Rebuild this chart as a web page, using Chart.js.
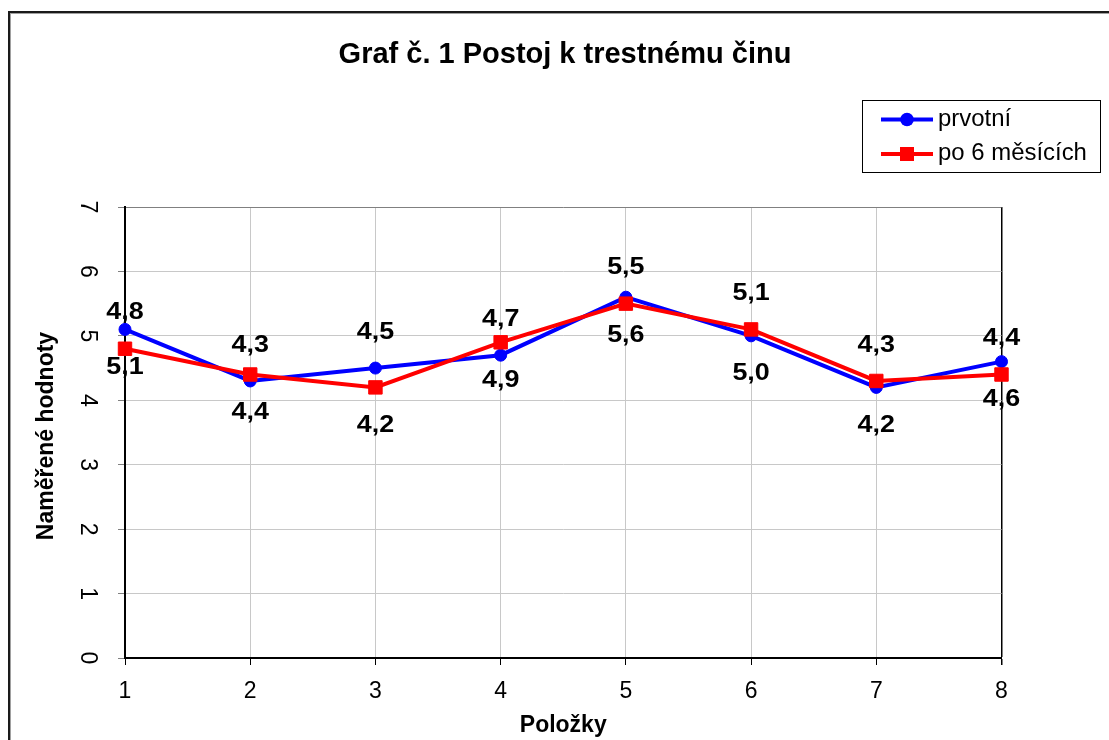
<!DOCTYPE html>
<html><head><meta charset="utf-8">
<script src="https://cdn.jsdelivr.net/npm/chart.js@4/dist/chart.umd.min.js"></script>
<style>html,body{margin:0;padding:0;background:#fff}#wrap{width:1109px;height:740px;position:relative}canvas{display:block}</style>
</head><body><div id="wrap"><canvas id="c" width="1109" height="740"></canvas></div>
<script>
// ---- data ----
const categories = ['1','2','3','4','5','6','7','8'];
const prvotni = [5.1, 4.3, 4.5, 4.7, 5.6, 5.0, 4.2, 4.6];
const po6mesicich = [4.8, 4.4, 4.2, 4.9, 5.5, 5.1, 4.3, 4.4];
const prvotniLabelSide = ['below','above','above','above','below','below','below','below'];
const po6LabelSide = ['above','below','below','below','above','above','above','above'];
const seriesNames = ['prvotní', 'po 6 měsících'];
const yMin = 0, yMax = 7, yStep = 1;
const chartTitle = 'Graf č. 1 Postoj k trestnému činu';
const xTitle = 'Položky';
const yTitle = 'Naměřené hodnoty';

const FONT = "'Liberation Sans', Arial, Helvetica, sans-serif";
Chart.defaults.font.family = FONT;
Chart.defaults.color = '#000';

const decorPlugin = {
  id: 'decor',
  beforeDraw(chart) {
    const ctx = chart.ctx;
    ctx.save();
    ctx.fillStyle = '#fff';
    ctx.fillRect(0, 0, chart.width, chart.height);
    ctx.strokeStyle = '#1a1a1a';
    ctx.lineWidth = 2;
    ctx.strokeRect(9, 12, 1300, 900);
    ctx.strokeStyle = '#a0a0a0';
    ctx.lineWidth = 1;
    ctx.strokeRect(10.5, 13.5, 1300, 900);
    ctx.restore();
  },
  afterDraw(chart) {
    const ctx = chart.ctx;
    ctx.save();
    // title
    ctx.fillStyle = '#000';
    ctx.font = 'bold 29px ' + FONT;
    ctx.textAlign = 'center';
    ctx.textBaseline = 'middle';
    ctx.fillText(chartTitle, 565, 55);
    // y axis title
    ctx.save();
    ctx.translate(46.5, 436);
    ctx.rotate(-Math.PI / 2);
    ctx.font = 'bold 23px ' + FONT;
    ctx.fillText(yTitle, 0, 0);
    ctx.restore();
    // legend
    const lx = 862, ly = 100, lw = 238, lh = 72;
    ctx.strokeStyle = '#000';
    ctx.lineWidth = 1;
    ctx.strokeRect(lx + 0.5, ly + 0.5, lw, lh);
    const rows = [119.5, 154];
    chart.data.datasets.forEach((ds, i) => {
      const y = rows[i];
      ctx.strokeStyle = ds.borderColor;
      ctx.lineWidth = 4;
      ctx.beginPath();
      ctx.moveTo(881, y);
      ctx.lineTo(933, y);
      ctx.stroke();
      ctx.fillStyle = ds.backgroundColor;
      if (ds.pointStyle === 'circle') {
        ctx.beginPath();
        ctx.arc(907, y, 6.8, 0, Math.PI * 2);
        ctx.fill();
      } else {
        ctx.fillRect(907 - 7, y - 7, 14, 14);
      }
      ctx.fillStyle = '#000';
      ctx.font = '23px ' + FONT;
      ctx.textAlign = 'left';
      ctx.textBaseline = 'middle';
      ctx.save();
      ctx.translate(938, y);
      ctx.scale(1.04, 1);
      ctx.fillText(ds.label, 0, 0);
      ctx.restore();
    });
    ctx.restore();
  },
  afterDatasetsDraw(chart) {
    const ctx = chart.ctx;
    ctx.save();
    ctx.fillStyle = '#000';
    ctx.font = 'bold 24px ' + FONT;
    ctx.textAlign = 'center';
    ctx.textBaseline = 'middle';
    chart.data.datasets.forEach((ds, i) => {
      const meta = chart.getDatasetMeta(i);
      meta.data.forEach((pt, j) => {
        const v = ds.data[j];
        const txt = v.toFixed(1).replace('.', ',');
        const side = ds.labelSides[j];
        const y = side === 'above' ? pt.y - 36 : pt.y + 38;
        ctx.save();
        ctx.translate(pt.x, y);
        ctx.scale(1.12, 1);
        ctx.fillText(txt, 0, 0);
        ctx.restore();
      });
    });
    ctx.restore();
  }
};

new Chart(document.getElementById('c'), {
  type: 'line',
  data: {
    labels: categories,
    datasets: [
      {
        label: seriesNames[0],
        data: prvotni,
        labelSides: prvotniLabelSide,
        borderColor: '#0000ff',
        backgroundColor: '#0000ff',
        borderWidth: 4,
        pointStyle: 'circle',
        pointRadius: 6,
        pointBorderWidth: 1,
        pointBorderColor: '#0000ff',
        pointBackgroundColor: '#0000ff',
        tension: 0,
        order: 2
      },
      {
        label: seriesNames[1],
        data: po6mesicich,
        labelSides: po6LabelSide,
        borderColor: '#ff0000',
        backgroundColor: '#ff0000',
        borderWidth: 4,
        pointStyle: 'rect',
        pointRadius: 9.5,
        pointBorderWidth: 1,
        pointBorderColor: '#ff0000',
        pointBackgroundColor: '#ff0000',
        tension: 0,
        order: 1
      }
    ]
  },
  options: {
    responsive: false,
    animation: false,
    devicePixelRatio: 1,
    events: [],
    layout: { padding: { left: 0, top: 207, right: 107.5, bottom: 0 } },
    plugins: { legend: { display: false }, tooltip: { enabled: false }, title: { display: false } },
    scales: {
      x: {
        type: 'category',
        offset: false,
        grid: {
          color: (c) => (c.index === categories.length - 1 ? '#000' : '#c8c8c8'),
          lineWidth: (c) => (c.index === categories.length - 1 ? 1.5 : 1),
          tickColor: '#000',
          tickLength: 7,
          drawTicks: true
        },
        border: { display: true, color: '#000', width: 2 },
        ticks: { font: { size: 23 }, color: '#000', padding: 13, maxRotation: 0, autoSkip: false },
        title: { display: true, text: xTitle, font: { size: 23, weight: 'bold' }, color: '#000', padding: { top: 0, bottom: 1 } },
        afterFit(scale) { scale.height = 82; }
      },
      y: {
        min: yMin,
        max: yMax,
        grid: {
          color: (c) => (c.tick && c.tick.value === yMax ? '#808080' : '#c8c8c8'),
          tickColor: '#808080',
          tickLength: 7
        },
        border: { display: true, color: '#000', width: 2 },
        ticks: {
          stepSize: yStep,
          font: { size: 23 },
          color: '#000',
          padding: 24,
          minRotation: -90,
          maxRotation: -90,
          crossAlign: 'center'
        },
        afterFit(scale) { scale.width = 125; }
      }
    }
  },
  plugins: [decorPlugin]
});
</script>
</body></html>
